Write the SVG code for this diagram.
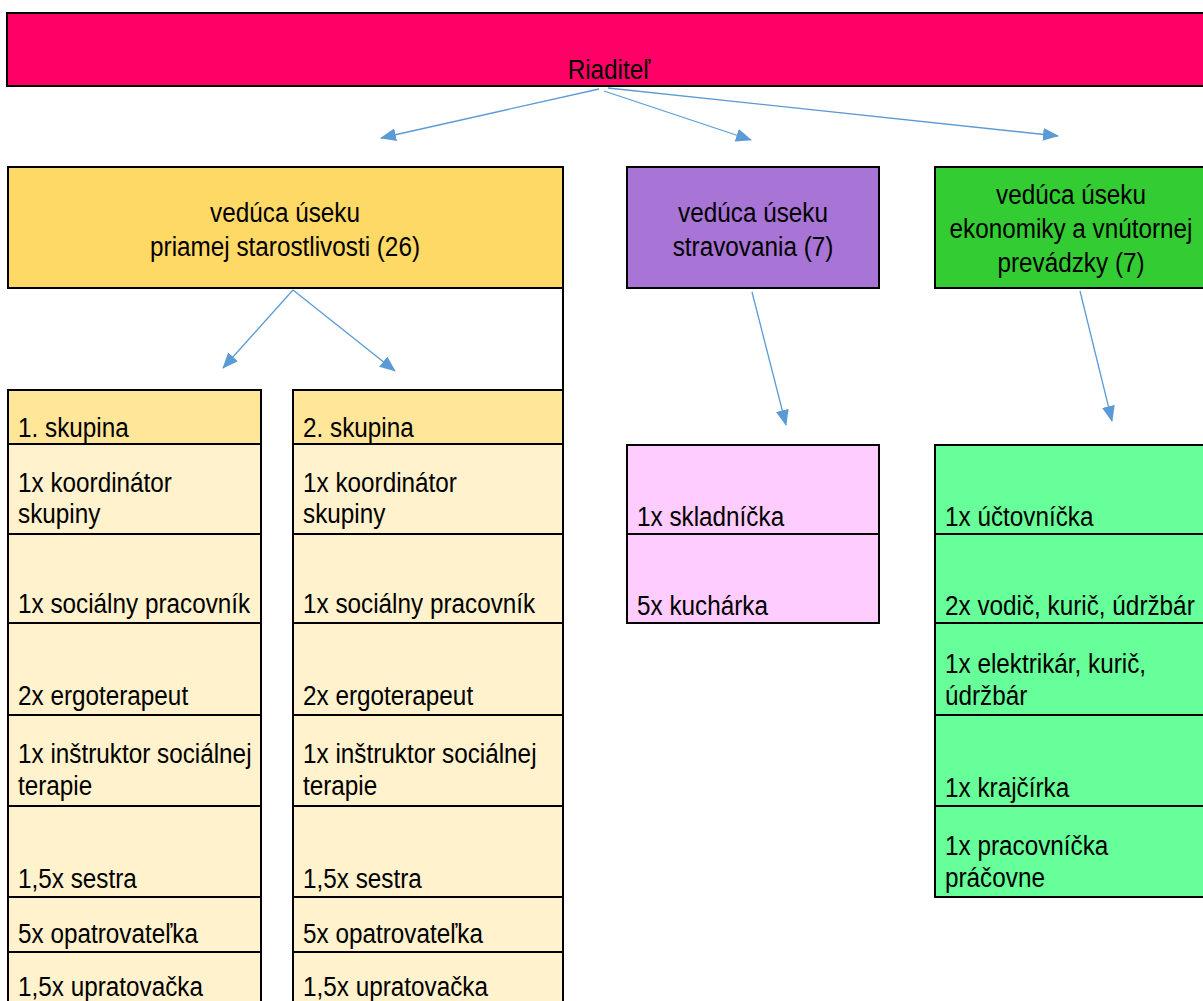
<svg xmlns="http://www.w3.org/2000/svg" width="1203" height="1001" viewBox="0 0 1203 1001">
<style>
.t{font-family:"Liberation Sans",Arial,sans-serif;font-size:27px;fill:#000}
.c{text-anchor:middle}
.b{stroke:#000;stroke-width:2}
.hdr{fill:#FFE699}
.row{fill:#FFF2CC}
.pink{fill:#FFCCFF}
.lg{fill:#66FF99}
.cn{stroke:#5B9BD5;stroke-width:1.3;fill:none;marker-end:url(#ah)}
</style>
<defs>
<marker id="ah" markerUnits="userSpaceOnUse" markerWidth="16" markerHeight="13" refX="15" refY="6.5" orient="auto">
<path d="M0,0 L16,6.5 L0,13 z" fill="#5B9BD5"/>
</marker>
</defs>
<rect width="1203" height="1001" fill="#fff"/>

<g id="riaditel">
<rect class="b" x="7" y="13" width="1206" height="73" fill="#FF0066"/>
<text class="t c" transform="translate(609 79) scale(0.9 1)">Riaditeľ</text>
</g>

<g id="veduca-priamej">
<rect class="b" x="8" y="167" width="555" height="121" fill="#FFD966"/>
<text class="t c" transform="translate(285 222) scale(0.9 1)">vedúca úseku</text>
<text class="t c" transform="translate(285 256) scale(0.9 1)">priamej starostlivosti (26)</text>
<line class="b" x1="563" y1="288" x2="563" y2="390"/>
</g>

<g id="veduca-stravovania">
<rect class="b" x="627" y="167" width="252" height="121" fill="#A874D6"/>
<text class="t c" transform="translate(753 222) scale(0.9 1)">vedúca úseku</text>
<text class="t c" transform="translate(753 256) scale(0.9 1)">stravovania (7)</text>
</g>

<g id="veduca-ekonomiky">
<rect class="b" x="935" y="167" width="276" height="121" fill="#33CC33"/>
<text class="t c" transform="translate(1071 204) scale(0.9 1)">vedúca úseku</text>
<text class="t c" transform="translate(1071 238) scale(0.9 1)">ekonomiky a vnútornej</text>
<text class="t c" transform="translate(1071 272) scale(0.9 1)">prevádzky (7)</text>
</g>

<g id="skupina-1">
<rect class="b hdr" x="8" y="390" width="253" height="54"/>
<rect class="b row" x="8" y="444" width="253" height="90"/>
<rect class="b row" x="8" y="534" width="253" height="89"/>
<rect class="b row" x="8" y="623" width="253" height="92"/>
<rect class="b row" x="8" y="715" width="253" height="91"/>
<rect class="b row" x="8" y="806" width="253" height="91"/>
<rect class="b row" x="8" y="897" width="253" height="55"/>
<rect class="b row" x="8" y="952" width="253" height="60"/>
<text class="t" transform="translate(18 437) scale(0.9 1)">1. skupina</text>
<text class="t" transform="translate(18 492) scale(0.9 1)">1x koordinátor</text>
<text class="t" transform="translate(18 523) scale(0.9 1)">skupiny</text>
<text class="t" transform="translate(18 613) scale(0.9 1)">1x sociálny pracovník</text>
<text class="t" transform="translate(18 705) scale(0.9 1)">2x ergoterapeut</text>
<text class="t" transform="translate(18 763) scale(0.9 1)">1x inštruktor sociálnej</text>
<text class="t" transform="translate(18 795) scale(0.9 1)">terapie</text>
<text class="t" transform="translate(18 888) scale(0.9 1)">1,5x sestra</text>
<text class="t" transform="translate(18 943) scale(0.9 1)">5x opatrovateľka</text>
<text class="t" transform="translate(18 996) scale(0.9 1)">1,5x upratovačka</text>
</g>

<g id="skupina-2">
<rect class="b hdr" x="293" y="390" width="270" height="54"/>
<rect class="b row" x="293" y="444" width="270" height="90"/>
<rect class="b row" x="293" y="534" width="270" height="89"/>
<rect class="b row" x="293" y="623" width="270" height="92"/>
<rect class="b row" x="293" y="715" width="270" height="91"/>
<rect class="b row" x="293" y="806" width="270" height="91"/>
<rect class="b row" x="293" y="897" width="270" height="55"/>
<rect class="b row" x="293" y="952" width="270" height="60"/>
<text class="t" transform="translate(303 437) scale(0.9 1)">2. skupina</text>
<text class="t" transform="translate(303 492) scale(0.9 1)">1x koordinátor</text>
<text class="t" transform="translate(303 523) scale(0.9 1)">skupiny</text>
<text class="t" transform="translate(303 613) scale(0.9 1)">1x sociálny pracovník</text>
<text class="t" transform="translate(303 705) scale(0.9 1)">2x ergoterapeut</text>
<text class="t" transform="translate(303 763) scale(0.9 1)">1x inštruktor sociálnej</text>
<text class="t" transform="translate(303 795) scale(0.9 1)">terapie</text>
<text class="t" transform="translate(303 888) scale(0.9 1)">1,5x sestra</text>
<text class="t" transform="translate(303 943) scale(0.9 1)">5x opatrovateľka</text>
<text class="t" transform="translate(303 996) scale(0.9 1)">1,5x upratovačka</text>
</g>

<g id="stravovanie">
<rect class="b pink" x="627" y="445" width="252" height="89"/>
<rect class="b pink" x="627" y="534" width="252" height="89"/>
<text class="t" transform="translate(637 526) scale(0.9 1)">1x skladníčka</text>
<text class="t" transform="translate(637 615) scale(0.9 1)">5x kuchárka</text>
</g>

<g id="ekonomika">
<rect class="b lg" x="935" y="445" width="276" height="89"/>
<rect class="b lg" x="935" y="534" width="276" height="89"/>
<rect class="b lg" x="935" y="623" width="276" height="92"/>
<rect class="b lg" x="935" y="715" width="276" height="91"/>
<rect class="b lg" x="935" y="806" width="276" height="91"/>
<text class="t" transform="translate(945 526) scale(0.9 1)">1x účtovníčka</text>
<text class="t" transform="translate(945 615) scale(0.9 1)">2x vodič, kurič, údržbár</text>
<text class="t" transform="translate(945 673) scale(0.9 1)">1x elektrikár, kurič,</text>
<text class="t" transform="translate(945 705) scale(0.9 1)">údržbár</text>
<text class="t" transform="translate(945 797) scale(0.9 1)">1x krajčírka</text>
<text class="t" transform="translate(945 855) scale(0.9 1)">1x pracovníčka</text>
<text class="t" transform="translate(945 887) scale(0.9 1)">práčovne</text>
</g>

<g id="connectors">
<line class="cn" x1="599" y1="89" x2="381" y2="138"/>
<line class="cn" x1="604" y1="91" x2="751" y2="140"/>
<line class="cn" x1="608" y1="88" x2="1058" y2="136"/>
<line class="cn" x1="293" y1="290" x2="223" y2="368"/>
<line class="cn" x1="293" y1="290" x2="395" y2="371"/>
<line class="cn" x1="752" y1="292" x2="786" y2="425"/>
<line class="cn" x1="1080" y1="291" x2="1112" y2="421"/>
</g>
</svg>
